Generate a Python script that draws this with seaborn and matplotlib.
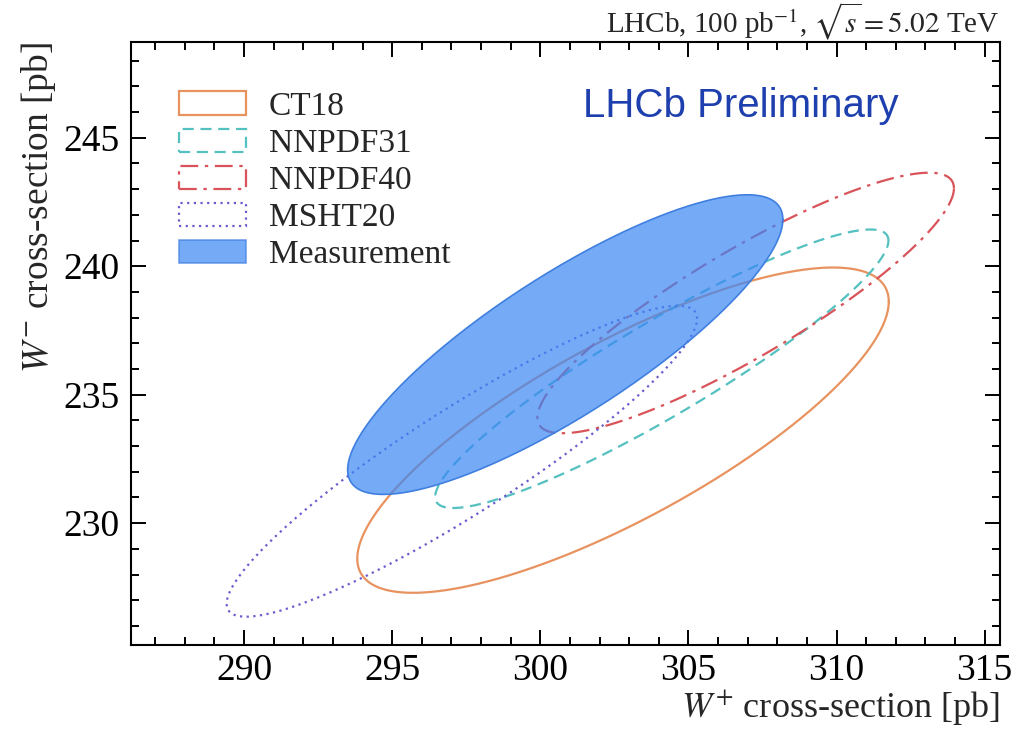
import numpy as np
import pandas as pd
import matplotlib
matplotlib.use("Agg")
import matplotlib.pyplot as plt
import seaborn as sns
from matplotlib.patches import Patch
from matplotlib.ticker import MultipleLocator

# PDF predictions: centre, half-extent along each axis, correlation
pdf_sets = ["CT18", "NNPDF31", "NNPDF40", "MSHT20"]
wplus_centre = [302.79, 304.10, 306.93, 297.35]
wminus_centre = [233.62, 236.01, 238.57, 232.41]
wplus_halfwidth = [8.97, 7.65, 7.03, 7.94]
wminus_halfwidth = [6.33, 5.42, 5.07, 6.05]
correlation = [0.79, 0.92, 0.88, 0.917]

# Measured cross-sections
meas_wplus = 300.84
meas_wminus = 236.95
meas_wplus_half = 7.345
meas_wminus_half = 5.83
meas_corr = 0.836

x_ticks = [290, 295, 300, 305, 310, 315]
y_ticks = [230, 235, 240, 245]

colors = {"CT18": "#E8935F", "NNPDF31": "#55C0C0",
          "NNPDF40": "#D9545A", "MSHT20": "#6C5CCF"}
styles = {"CT18": "-", "NNPDF31": (0, (5, 3)),
          "NNPDF40": (0, (8, 3, 1.5, 3)), "MSHT20": (0, (1, 2))}


def ellipse_curve(cx, cy, hx, hy, rho, n=400):
    t = np.linspace(0, 2 * np.pi, n)
    x = cx + hx * np.cos(t)
    y = cy + hy * (rho * np.cos(t) + np.sqrt(1 - rho ** 2) * np.sin(t))
    return x, y


rows = []
for name, cx, cy, hx, hy, r in zip(pdf_sets, wplus_centre, wminus_centre,
                                   wplus_halfwidth, wminus_halfwidth, correlation):
    x, y = ellipse_curve(cx, cy, hx, hy, r)
    rows.append(pd.DataFrame({"set": name, "step": np.arange(len(x)), "wplus": x, "wminus": y}))
curves = pd.concat(rows, ignore_index=True)

sns.set_theme(style="ticks")
plt.rcParams["font.family"] = ["Liberation Serif", "DejaVu Serif"]
plt.rcParams["mathtext.fontset"] = "stix"

fig = plt.figure(figsize=(10.31, 7.31), dpi=100)
ax = fig.add_axes([0.127, 0.117, 0.8425, 0.826])

for name in pdf_sets:
    sub = curves[curves["set"] == name]
    sns.lineplot(data=sub, x="wplus", y="wminus", sort=False, estimator=None,
                 color=colors[name], linestyle=styles[name], linewidth=1.6, ax=ax)

mx, my = ellipse_curve(meas_wplus, meas_wminus, meas_wplus_half, meas_wminus_half, meas_corr)
ax.fill(mx, my, facecolor="#3A86F5", alpha=0.7, edgecolor="none", zorder=3)
ax.plot(mx, my, color="#3F7FE0", linewidth=1.2, zorder=4)

ax.set_xlim(286.18, 315.5)
ax.set_ylim(225.24, 248.74)
ax.set_xticks(x_ticks)
ax.set_yticks(y_ticks)
ax.xaxis.set_minor_locator(MultipleLocator(1))
ax.yaxis.set_minor_locator(MultipleLocator(1))
ax.tick_params(which="both", direction="in", top=True, right=True, width=1.4,
               labelsize=27, colors="black")
ax.tick_params(which="major", length=11)
ax.tick_params(axis="x", which="major", pad=6)
ax.tick_params(axis="y", which="major", pad=8)
ax.tick_params(which="minor", length=6)
for s in ax.spines.values():
    s.set_linewidth(1.5)
    s.set_color("black")

ax.set_xlabel(r"$W^{+}$ cross-section [pb]", fontsize=26, loc="right", labelpad=0)
ax.set_ylabel(r"$W^{-}$ cross-section [pb]", fontsize=27, loc="top", labelpad=4)

ax.text(1.0, 1.0, r"LHCb, 100 pb$^{-1}$, $\sqrt{s} = 5.02$ TeV",
        transform=ax.transAxes, ha="right", va="bottom", fontsize=21)
ax.text(0.521, 0.894, "LHCb Preliminary", transform=ax.transAxes,
        ha="left", va="center", fontsize=29, color="#1E3FAE",
        family=["Liberation Sans", "DejaVu Sans"])

handles = [Patch(facecolor="none", edgecolor=colors[n], linestyle=styles[n],
                 linewidth=1.6, label=n) for n in pdf_sets]
handles.append(Patch(facecolor="#3A86F5", alpha=0.7, edgecolor="#3F7FE0",
                     linewidth=1.2, label="Measurement"))
ax.legend(handles=handles, loc="upper left", bbox_to_anchor=(0.04, 0.94),
          frameon=False, fontsize=24, handlelength=2.0, handleheight=0.7,
          labelspacing=0.2, handletextpad=0.7, borderaxespad=0)

fig.savefig("out.png", dpi=100)
